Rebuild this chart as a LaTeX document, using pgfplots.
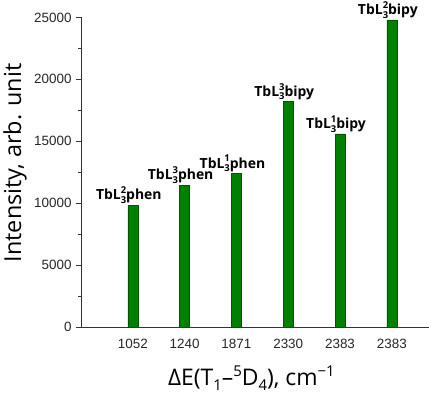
\documentclass[border=0pt]{standalone}
\usepackage{pgfplots}
\pgfplotsset{compat=1.18}
\usepackage{fontspec}
\setmainfont{Liberation Sans}
\newfontfamily\labfont{Open Sans}
% stacked super/subscript for the bar labels
\protected\def\supsub#1#2{\rlap{\raisebox{0.45em}{\fontsize{9.5}{10}\selectfont #1}}\raisebox{-0.25em}{\fontsize{9.5}{10}\selectfont #2}}
\protected\def\lsub#1{\raisebox{-0.22em}{\fontsize{15}{15}\selectfont #1}}
\protected\def\lsup#1{\raisebox{0.42em}{\fontsize{15}{15}\selectfont #1}}
\definecolor{barfill}{RGB}{0,128,0}
\definecolor{baredge}{RGB}{0,85,0}
\begin{document}
\begin{tikzpicture}[x=1bp,y=1bp]
  \begin{axis}[
      scale only axis,
      width=348bp, height=310bp,
      axis lines*=left,
      axis line style={black!80, line width=0.8pt},
      xmin=-1, xmax=5.71,
      ymin=0, ymax=25000,
      xtick=data,
      xticklabels={1052,1240,1871,2330,2383,2383},
      x tick style={draw=none},
      ytick={0,5000,...,25000},
      minor y tick num=1,
      tick align=outside,
      major tick length=5bp,
      minor tick length=3bp,
      y tick style={black!80, line width=0.7pt},
      /pgf/number format/assume math mode=true,
      /pgf/number format/1000 sep={},
      scaled y ticks=false,
      tick label style={font=\fontsize{13.5}{14}\selectfont, text=black!85},
      yticklabel style={xshift=-1bp},
      xticklabel style={yshift=-4bp},
      ylabel={\labfont Intensity, arb. unit},
      ylabel style={font=\fontsize{23.5}{26}\selectfont, at={(axis description cs:-0.19,0.53)}, anchor=center},
      xlabel={\labfont ΔE(T\lsub{1}–\lsup{5}D\lsub{4}), cm\lsup{−1}},
      xlabel style={font=\fontsize{23}{26}\selectfont, at={(axis description cs:0.49,-0.165)}, anchor=center},
      clip=false,
    ]
    \addplot[ybar, bar width=10bp, fill=barfill, draw=baredge,
      point meta=explicit symbolic,
      nodes near coords,
      every node near coord/.append style={font=\labfont\bfseries\fontsize{14}{15}\selectfont,
        anchor=south, xshift=-4bp, inner sep=1.5bp, text=black}]
      coordinates {
        (0,9850) [TbL\supsub{2}{3}phen]
        (1,11450) [TbL\supsub{3}{3}phen]
        (2,12400) [TbL\supsub{1}{3}phen]
        (3,18200) [TbL\supsub{3}{3}bipy]
        (4,15600) [TbL\supsub{1}{3}bipy]
        (5,24800) [TbL\supsub{2}{3}bipy]
      };
  \end{axis}
\end{tikzpicture}
\end{document}
